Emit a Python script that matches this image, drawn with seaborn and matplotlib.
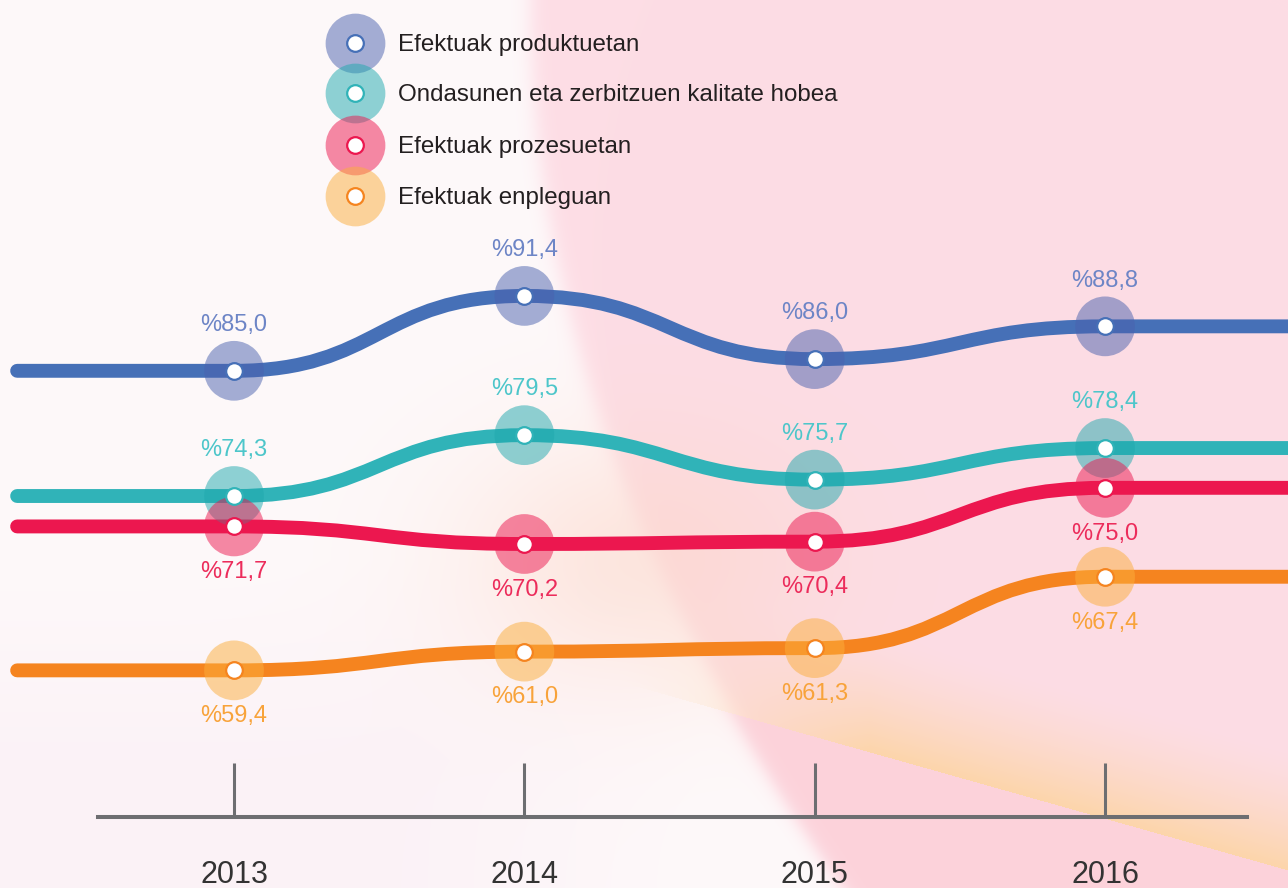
import numpy as np
import pandas as pd
import matplotlib
matplotlib.use("Agg")
import matplotlib.pyplot as plt
from matplotlib.path import Path
from matplotlib.patches import PathPatch
from matplotlib import font_manager
import seaborn as sns

# Data
years = [2013, 2014, 2015, 2016]
series_names = [
    "Efektuak produktuetan",
    "Ondasunen eta zerbitzuen kalitate hobea",
    "Efektuak prozesuetan",
    "Efektuak enpleguan",
]
produktuetan = [85.0, 91.4, 86.0, 88.8]
kalitatea = [74.3, 79.5, 75.7, 78.4]
prozesuetan = [71.7, 70.2, 70.4, 75.0]
enpleguan = [59.4, 61.0, 61.3, 67.4]

line_colors = ["#4670B7", "#30B3B8", "#EC174F", "#F5841F"]
halo_colors = ["#4A62AE", "#1FA9AE", "#EC174F", "#FBAE3C"]
label_colors = ["#6D85C6", "#4DC6CA", "#EC2C5B", "#F8A33A"]
label_above = [True, True, False, False]

all_values = [produktuetan, kalitatea, prozesuetan, enpleguan]
df = pd.DataFrame({
    "year": years * 4,
    "value": produktuetan + kalitatea + prozesuetan + enpleguan,
    "series": np.repeat(series_names, 4),
})

sns.set_theme(style="white")
plt.rcParams["font.family"] = ["Liberation Sans", "DejaVu Sans"]

fig = plt.figure(figsize=(12.88, 8.88), dpi=100)
ax = fig.add_axes([0, 0, 1, 1])
xlim = (2012.194, 2016.630)
ylim = (40.8, 116.69)

# Background (soft pink / peach gradients)
H, W = 888, 1288
yy, xx = np.mgrid[0:H, 0:W].astype(float)


def blend(img, color, a):
    c = np.array(color) / 255.0
    return img * (1 - a[..., None]) + c * a[..., None]


bg = np.ones((H, W, 3)) * np.array([254, 249, 250]) / 255.0
lav = np.clip((yy - 560) / 200, 0, 1) * np.clip((700 - xx) / 300, 0, 1)
bg = blend(bg, (250, 238, 245), 0.6 * lav)
edge = 530 + 0.0004 * yy ** 2
pink = 1 / (1 + np.exp(-(xx - edge) / 6))
bg = blend(bg, (253, 221, 229), pink)
glow = np.exp(-(((xx - 640) / 180) ** 2 + ((yy - 560) / 130) ** 2))
bg = blend(bg, (252, 214, 200), 0.55 * glow)
d = (xx - 650) * (-0.2715) + (yy - 690) * 0.9624
band = np.clip(1 + d / 120, 0, 1) * (d < 0) * np.clip((xx - 620) / 250, 0, 1)
bg = blend(bg, (253, 212, 160), 0.85 * band ** 1.5)
below = (d >= 0) * pink
bg = blend(bg, (252, 206, 214), 0.7 * below)
ax.imshow(bg, extent=(xlim[0], xlim[1], ylim[0], ylim[1]), aspect="auto", zorder=0)


# Smooth lines
def smooth_path(xs, ys, x_start, x_end, k=0.5):
    verts = [(x_start, ys[0]), (xs[0], ys[0])]
    codes = [Path.MOVETO, Path.LINETO]
    for i in range(len(xs) - 1):
        dx = xs[i + 1] - xs[i]
        verts += [(xs[i] + k * dx, ys[i]), (xs[i + 1] - k * dx, ys[i + 1]), (xs[i + 1], ys[i + 1])]
        codes += [Path.CURVE4] * 3
    verts.append((x_end, ys[-1]))
    codes.append(Path.LINETO)
    return Path(verts, codes)


for vals, col in zip(all_values[::-1], line_colors[::-1]):
    p = smooth_path(years, vals, 2012.253, 2016.8)
    ax.add_patch(PathPatch(p, fill=False, lw=10, edgecolor=col,
                           capstyle="round", joinstyle="round", zorder=2))

# Halos
sns.scatterplot(data=df, x="year", y="value", hue="series",
                palette=dict(zip(series_names, halo_colors)),
                s=1850, alpha=0.5, linewidth=0, legend=False, ax=ax, zorder=3)

# White markers and value labels
for vals, col, lcol, above in zip(all_values, line_colors, label_colors, label_above):
    ax.scatter(years, vals, s=144, facecolor="white", edgecolor=col, linewidth=1.6, zorder=4)
    for x, v in zip(years, vals):
        txt = ("%" + f"{v:.1f}").replace(".", ",")
        ax.annotate(txt, (x, v), xytext=(0, 33 if above else -33), textcoords="offset points",
                    ha="center", va="center", fontsize=17, color=lcol, zorder=5)

# Legend
legend_y = [0.9516, 0.8953, 0.8367, 0.7793]
for name, hc, lc, ly in zip(series_names, halo_colors, line_colors, legend_y):
    ax.scatter(0.2756, ly, s=1850, color=hc, alpha=0.5, linewidth=0, transform=ax.transAxes, zorder=3)
    ax.scatter(0.2756, ly, s=144, facecolor="white", edgecolor=lc, linewidth=1.6,
               transform=ax.transAxes, zorder=4)
    ax.text(0.309, ly - 0.002, name, transform=ax.transAxes, va="center", ha="left",
            fontsize=17.4, color="#231F20", zorder=5)

# Axis
ax.set_xlim(*xlim)
ax.set_ylim(*ylim)
ax.set_xlabel("")
ax.set_ylabel("")
ax.set_yticks([])
for s in ["left", "right", "top"]:
    ax.spines[s].set_visible(False)
ax.spines["bottom"].set_position(("axes", 0.080))
ax.spines["bottom"].set_bounds(2012.532, 2016.489)
ax.spines["bottom"].set_linewidth(2.9)
ax.spines["bottom"].set_color("#6D6E71")
ax.set_xticks(years)
ax.set_xticklabels([str(y) for y in years])

names = {f.name for f in font_manager.fontManager.ttflist}
if "Liberation Sans Narrow" in names:
    year_family, year_size = "Liberation Sans Narrow", 26
else:
    year_family, year_size = "Liberation Sans", 22
ax.tick_params(axis="x", bottom=True, direction="in", length=39, width=2.2, color="#6D6E71",
               pad=31, labelsize=year_size, labelcolor="#333333")
for lbl in ax.get_xticklabels():
    lbl.set_family(year_family)

fig.savefig("out.png", dpi=100)
